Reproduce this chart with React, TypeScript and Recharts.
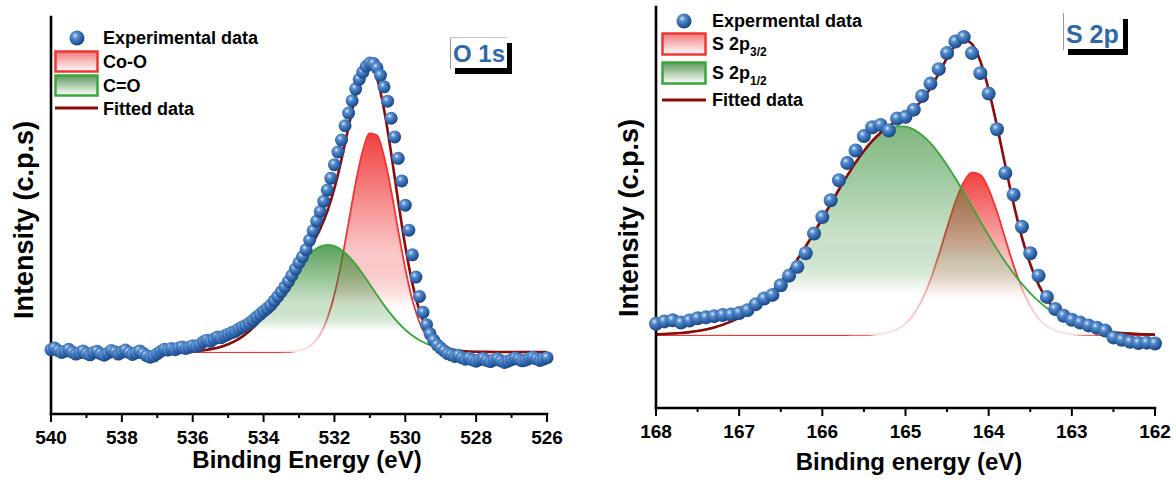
import React from 'react';
import { ComposedChart, Scatter, Area, Line, XAxis, YAxis, Legend } from 'recharts';

const FONT = '"Liberation Sans", Arial, Helvetica, sans-serif';

// ---------- O 1s region ----------
const O_BASE = 15.6;

const oScanEnergy = [
  540.0, 539.9, 539.8, 539.7, 539.6, 539.5, 539.4, 539.3, 539.2, 539.1,
  539.0, 538.9, 538.8, 538.7, 538.6, 538.5, 538.4, 538.3, 538.2, 538.1,
  538.0, 537.9, 537.8, 537.7, 537.6, 537.5, 537.4, 537.3, 537.2, 537.1,
  537.0, 536.9, 536.8, 536.7, 536.6, 536.5, 536.4, 536.3, 536.2, 536.1,
  536.0, 535.9, 535.8, 535.7, 535.6, 535.5, 535.4, 535.3, 535.2, 535.1,
  535.0, 534.9, 534.8, 534.7, 534.6, 534.5, 534.4, 534.3, 534.2, 534.1,
  534.0, 533.9, 533.8, 533.7, 533.6, 533.5, 533.4, 533.3, 533.2, 533.1,
  533.0, 532.9, 532.8, 532.7, 532.6, 532.5, 532.4, 532.3, 532.2, 532.1,
  532.0, 531.9, 531.8, 531.7, 531.6, 531.5, 531.4, 531.3, 531.2, 531.1,
  531.0, 530.9, 530.8, 530.7, 530.6, 530.5, 530.4, 530.3, 530.2, 530.1,
  530.0, 529.9, 529.8, 529.7, 529.6, 529.5, 529.4, 529.3, 529.2, 529.1,
  529.0, 528.9, 528.8, 528.7, 528.6, 528.5, 528.4, 528.3, 528.2, 528.1,
  528.0, 527.9, 527.8, 527.7, 527.6, 527.5, 527.4, 527.3, 527.2, 527.1,
  527.0, 526.9, 526.8, 526.7, 526.6, 526.5, 526.4, 526.3, 526.2, 526.1,
  526.0,
];

const oScanCounts = [
  16.2, 16.6, 16.0, 15.5, 15.8, 16.3, 15.6, 15.1, 15.4, 15.9,
  15.3, 14.9, 15.5, 15.8, 15.2, 14.8, 15.3, 16.0, 15.7, 15.1,
  15.6, 16.1, 15.5, 15.0, 15.4, 15.9, 15.3, 14.7, 14.3, 14.6,
  15.2, 15.8, 16.3, 16.1, 16.5, 16.2, 16.6, 16.9, 16.5, 16.8,
  17.2, 17.0, 17.5, 18.2, 18.6, 18.3, 18.9, 19.4, 19.2, 19.7,
  20.1, 20.5, 20.8, 21.4, 21.9, 22.3, 22.9, 23.6, 24.4, 25.1,
  25.9, 26.6, 27.4, 28.5, 29.6, 30.8, 32.0, 33.4, 34.9, 36.5,
  38.1, 39.6, 41.4, 43.8, 46.2, 48.6, 51.0, 53.6, 56.4, 59.4,
  62.8, 66.0, 69.0, 72.6, 75.8, 78.9, 81.9, 84.3, 86.1, 87.6,
  88.4, 88.3, 87.2, 85.3, 82.4, 78.8, 74.5, 69.8, 64.4, 58.7,
  52.6, 46.3, 40.1, 34.5, 29.6, 25.6, 22.5, 20.2, 18.6, 17.4,
  16.6, 15.9, 15.2, 14.9, 14.5, 14.8, 14.2, 13.8, 14.1, 13.6,
  13.3, 13.7, 14.0, 13.5, 13.2, 13.6, 13.9, 13.4, 13.0, 13.3,
  13.7, 14.1, 13.8, 13.4, 13.6, 14.0, 14.3, 13.9, 13.5, 13.8,
  14.2,
];

const oFitEnergy = [
  540.0, 537.0, 536.6, 536.2, 536.0, 535.8, 535.6, 535.4, 535.2, 535.0,
  534.8, 534.6, 534.4, 534.2, 534.0, 533.8, 533.6, 533.4, 533.2, 533.0,
  532.8, 532.6, 532.4, 532.2, 532.0, 531.8, 531.6, 531.4, 531.2, 531.0,
  530.8, 530.6, 530.4, 530.2, 530.0, 529.8, 529.6, 529.4, 529.2, 529.0,
  528.8, 528.6, 528.4, 528.2, 527.8, 527.4, 526.0,
];

const oCoOPeak = [
  15.6, 15.6, 15.6, 15.6, 15.6, 15.6, 15.6, 15.6, 15.6, 15.6,
  15.6, 15.6, 15.6, 15.6, 15.6, 15.6, 15.61, 15.65, 15.74, 15.99,
  16.56, 17.77, 20.1, 24.07, 30.15, 38.4, 48.2, 58.2, 66.3, 70.7,
  70.2, 64.9, 56.3, 46.2, 36.6, 28.75, 23.11, 19.51, 17.46, 16.41,
  15.92, 15.72, 15.64, 15.61, 15.6, 15.6, 15.6,
];

const oCOPeak = [
  15.6, 15.61, 15.64, 15.73, 15.82, 15.96, 16.17, 16.48, 16.93, 17.55,
  18.4, 19.5, 20.9, 22.61, 24.64, 26.94, 29.47, 32.11, 34.75, 37.22,
  39.38, 41.07, 42.17, 42.6, 42.31, 41.34, 39.76, 37.68, 35.26, 32.64,
  29.99, 27.43, 25.08, 22.99, 21.22, 19.75, 18.59, 17.7, 17.03, 16.56,
  16.22, 15.99, 15.84, 15.74, 15.65, 15.61, 15.6,
];

const oFitted = [
  15.6, 15.61, 15.64, 15.73, 15.82, 15.96, 16.17, 16.48, 16.93, 17.55,
  18.4, 19.5, 20.9, 22.61, 24.64, 26.94, 29.48, 32.16, 34.89, 37.61,
  40.34, 43.24, 46.67, 51.07, 56.86, 64.14, 72.36, 80.28, 85.96, 87.74,
  84.59, 76.73, 65.78, 53.59, 42.22, 32.9, 26.1, 21.61, 18.89, 17.37,
  16.54, 16.11, 15.88, 15.75, 15.65, 15.61, 15.6,
];

const oTicks = [540, 539, 538, 537, 536, 535, 534, 533, 532, 531, 530, 529, 528, 527, 526];
const oMajorTicks = [540, 538, 536, 534, 532, 530, 528, 526];

// ---------- S 2p region ----------
const S_BASE = 18.2;

const sEnergy = [
  168.0, 167.9, 167.8, 167.7, 167.6, 167.5, 167.4, 167.3, 167.2, 167.1,
  167.0, 166.9, 166.8, 166.7, 166.6, 166.5, 166.4, 166.3, 166.2, 166.1,
  166.0, 165.9, 165.8, 165.7, 165.6, 165.5, 165.4, 165.3, 165.2, 165.1,
  165.0, 164.9, 164.8, 164.7, 164.6, 164.5, 164.4, 164.3, 164.2, 164.1,
  164.0, 163.9, 163.8, 163.7, 163.6, 163.5, 163.4, 163.3, 163.2, 163.1,
  163.0, 162.9, 162.8, 162.7, 162.6, 162.5, 162.4, 162.3, 162.2, 162.1,
  162.0,
];

const sScanCounts = [
  21.0, 21.6, 21.9, 21.3, 21.8, 22.4, 22.6, 22.9, 23.2, 23.3,
  23.7, 24.4, 25.9, 27.3, 28.2, 30.6, 33.0, 35.2, 38.6, 43.5,
  47.6, 51.8, 56.8, 61.1, 64.2, 67.8, 70.0, 70.6, 69.2, 72.2,
  72.6, 74.4, 77.8, 80.9, 84.5, 88.5, 91.4, 92.5, 88.5, 83.5,
  78.4, 69.5, 58.6, 53.2, 45.2, 38.6, 33.0, 27.7, 24.7, 23.0,
  22.0, 21.3, 20.6, 20.0, 19.3, 17.6, 17.0, 16.5, 16.2, 16.3,
  16.1,
];

const s2p32 = [
  18.2, 18.2, 18.2, 18.2, 18.2, 18.2, 18.2, 18.2, 18.2, 18.2,
  18.2, 18.2, 18.2, 18.2, 18.2, 18.2, 18.2, 18.2, 18.2, 18.2,
  18.2, 18.2, 18.2, 18.2, 18.22, 18.24, 18.32, 18.5, 18.88, 19.65,
  21.05, 23.41, 27.0, 31.97, 38.14, 44.94, 51.39, 56.33, 58.76, 58.14,
  54.61, 48.92, 42.2, 35.56, 29.82, 25.4, 22.33, 20.39, 19.28, 18.69,
  18.41, 18.28, 18.23, 18.21, 18.2, 18.2, 18.2, 18.2, 18.2, 18.2,
  18.2,
];

const s2p12 = [
  18.37, 18.45, 18.57, 18.72, 18.93, 19.22, 19.6, 20.09, 20.73, 21.53,
  22.54, 23.76, 25.25, 27.01, 29.07, 31.44, 34.11, 37.07, 40.28, 43.7,
  47.26, 50.89, 54.49, 57.95, 61.17, 64.04, 66.47, 68.36, 69.63, 70.24,
  70.18, 69.42, 68.02, 66.03, 63.5, 60.55, 57.28, 53.77, 50.16, 46.54,
  43.0, 39.62, 36.45, 33.55, 30.94, 28.64, 26.64, 24.93, 23.5, 22.32,
  21.36, 20.59, 19.98, 19.51, 19.16, 18.89, 18.69, 18.54, 18.43, 18.36,
  18.31,
];

const sFitted = [
  18.37, 18.45, 18.57, 18.72, 18.93, 19.22, 19.6, 20.09, 20.73, 21.53,
  22.54, 23.76, 25.25, 27.01, 29.07, 31.44, 34.11, 37.07, 40.28, 43.7,
  47.26, 50.89, 54.49, 57.95, 61.19, 64.08, 66.59, 68.66, 70.31, 71.69,
  73.03, 74.63, 76.82, 79.8, 83.44, 87.29, 90.47, 91.9, 90.72, 86.48,
  79.41, 70.34, 60.45, 50.91, 42.56, 35.84, 30.77, 27.12, 24.58, 22.81,
  21.57, 20.67, 20.01, 19.52, 19.16, 18.89, 18.69, 18.54, 18.43, 18.36,
  18.31,
];

const sTicks = [168, 167.5, 167, 166.5, 166, 165.5, 165, 164.5, 164, 163.5, 163, 162.5, 162];
const sMajorTicks = [168, 167, 166, 165, 164, 163, 162];

// ---------- helpers ----------
type Pt = { e: number; v: number };
const pair = (xs: number[], ys: number[]): Pt[] => xs.map((e, i) => ({ e, v: ys[i] }));

const oScan = pair(oScanEnergy, oScanCounts);
const oCoO = pair(oFitEnergy, oCoOPeak);
const oCO = pair(oFitEnergy, oCOPeak);
const oFit = pair(oFitEnergy, oFitted);

const sScan = pair(sEnergy, sScanCounts);
const s32 = pair(sEnergy, s2p32);
const s12 = pair(sEnergy, s2p12);
const sFit = pair(sEnergy, sFitted);

const RED = '#f23434';
const GREEN = '#3aa63a';
const FIT = '#8b0a0a';
const BADGE_BLUE = '#2e68a8';
const axisStyle = { stroke: '#000', strokeWidth: 2.6, strokeLinecap: 'square' as const };

function EnergyTick(props: any) {
  const { x, y, payload, majors } = props;
  const isMajor = majors.includes(payload.value);
  return (
    <g>
      <line x1={x} x2={x} y1={y} y2={y + (isMajor ? 8 : 4)} stroke="#000" strokeWidth={2} />
      {isMajor && (
        <text x={x} y={y + 30} textAnchor="middle" fontFamily={FONT} fontWeight={700} fontSize={19} fill="#000">
          {payload.value}
        </text>
      )}
    </g>
  );
}

// axis titles are placed at fixed chart coordinates (px, py)
function TitleX({ px, py, text }: { px: number; py: number; text: string }) {
  return (
    <text x={px} y={py} textAnchor="middle" fontFamily={FONT} fontWeight={700} fontSize={24} fill="#000">
      {text}
    </text>
  );
}

function TitleY({ px, py, text }: { px: number; py: number; text: string }) {
  return (
    <text
      x={px}
      y={py}
      transform={`rotate(-90 ${px} ${py})`}
      textAnchor="middle"
      fontFamily={FONT}
      fontWeight={700}
      fontSize={27}
      fill="#000"
    >
      {text}
    </text>
  );
}

const ballShape = (id: string, r: number) => (props: any) => {
  const { cx, cy } = props;
  if (cx == null || cy == null) return <g />;
  return <circle cx={cx} cy={cy} r={r} fill={`url(#${id})`} />;
};

function BallGradient({ id }: { id: string }) {
  return (
    <radialGradient id={id} cx="0.38" cy="0.34" r="0.66">
      <stop offset="0" stopColor="#dce9f8" />
      <stop offset="0.28" stopColor="#5a90cf" />
      <stop offset="0.7" stopColor="#2d63a8" />
      <stop offset="1" stopColor="#1b4683" />
    </radialGradient>
  );
}

function FillGradient({ id, color, top }: { id: string; color: string; top: number }) {
  return (
    <linearGradient id={id} x1="0" y1="0" x2="0" y2="1">
      <stop offset="0" stopColor={color} stopOpacity={top} />
      <stop offset="0.55" stopColor={color} stopOpacity={0.25} />
      <stop offset="0.8" stopColor="#ffffff" stopOpacity={0.6} />
      <stop offset="1" stopColor="#ffffff" stopOpacity={0.85} />
    </linearGradient>
  );
}

const legendText = { fontFamily: FONT, fontWeight: 700, fontSize: 18, fill: '#000' };

function OLegend() {
  return (
    <svg width={280} height={125} style={{ overflow: 'visible', display: 'block' }}>
      <defs>
        <BallGradient id="lgBallO" />
        <linearGradient id="lgRedO" x1="0" y1="0" x2="0" y2="1">
          <stop offset="0" stopColor="#f07a7a" />
          <stop offset="1" stopColor="#ffffff" />
        </linearGradient>
        <linearGradient id="lgGreenO" x1="0" y1="0" x2="0" y2="1">
          <stop offset="0" stopColor="#5f9a5f" />
          <stop offset="1" stopColor="#ffffff" />
        </linearGradient>
      </defs>
      <circle cx={77} cy={38} r={7.5} fill="url(#lgBallO)" />
      <text x={103} y={44} {...legendText}>Experimental data</text>
      <rect x={55.5} y={51.5} width={42} height={20} fill="url(#lgRedO)" stroke={RED} strokeWidth={2.5} />
      <text x={103} y={68} {...legendText}>Co-O</text>
      <rect x={55.5} y={75.5} width={42} height={20} fill="url(#lgGreenO)" stroke={GREEN} strokeWidth={2.5} />
      <text x={103} y={92} {...legendText}>C=O</text>
      <line x1={55} x2={98} y1={108} y2={108} stroke={FIT} strokeWidth={3} />
      <text x={103} y={115} {...legendText}>Fitted data</text>
    </svg>
  );
}

function SLegend() {
  return (
    <svg width={260} height={115} style={{ overflow: 'visible', display: 'block' }}>
      <defs>
        <BallGradient id="lgBallS" />
        <linearGradient id="lgRedS" x1="0" y1="0" x2="0" y2="1">
          <stop offset="0" stopColor="#f07a7a" />
          <stop offset="1" stopColor="#ffffff" />
        </linearGradient>
        <linearGradient id="lgGreenS" x1="0" y1="0" x2="0" y2="1">
          <stop offset="0" stopColor="#5f9a5f" />
          <stop offset="1" stopColor="#ffffff" />
        </linearGradient>
      </defs>
      <circle cx={84} cy={21} r={7.5} fill="url(#lgBallS)" />
      <text x={112} y={27} {...legendText}>Expermental data</text>
      <rect x={62.5} y={33.5} width={43} height={21} fill="url(#lgRedS)" stroke={RED} strokeWidth={2.5} />
      <text x={112} y={50} {...legendText}>
        S 2p<tspan dy={6} fontSize={12}>3/2</tspan>
      </text>
      <rect x={62.5} y={62.5} width={43} height={21} fill="url(#lgGreenS)" stroke={GREEN} strokeWidth={2.5} />
      <text x={112} y={79} {...legendText}>
        S 2p<tspan dy={6} fontSize={12}>1/2</tspan>
      </text>
      <line x1={62} x2={106} y1={100} y2={100} stroke={FIT} strokeWidth={3} />
      <text x={112} y={106} {...legendText}>Fitted data</text>
    </svg>
  );
}

function Badge({ x, y, w, h, text, size, topLine }: { x: number; y: number; w: number; h: number; text: string; size: number; topLine: boolean }) {
  return (
    <g>
      <rect x={x + 5} y={y + 6} width={w} height={h} fill="#000" />
      <rect x={x} y={y} width={w} height={h} fill="#fff" />
      <line x1={x + 0.5} x2={x + 0.5} y1={y} y2={y + h + 1} stroke="#9a9a9a" strokeWidth={1} />
      {topLine && <line x1={x} x2={x + w} y1={y + 0.5} y2={y + 0.5} stroke="#c8c8c8" strokeWidth={1} />}
      <text x={x + 3} y={y + h - 6} fontFamily={FONT} fontWeight={700} fontSize={size} fill={BADGE_BLUE}>
        {text}
      </text>
    </g>
  );
}

export default function App() {
  return (
    <div style={{ position: 'absolute', left: 0, top: 0, width: 1176, height: 480, background: '#fff', overflow: 'hidden' }}>
      {/* O 1s panel */}
      <div style={{ position: 'absolute', left: 0, top: 0 }}>
        <ComposedChart width={580} height={480} margin={{ top: 17, right: 33, bottom: 0, left: 0 }}>
          <defs>
            <BallGradient id="ballO" />
            <FillGradient id="fillCoO" color="#ee2626" top={0.88} />
            <FillGradient id="fillCO" color="#2f8a2f" top={0.8} />
          </defs>
          <XAxis
            dataKey="e"
            type="number"
            domain={[526, 540]}
            reversed
            ticks={oTicks}
            interval={0}
            tickSize={0}
            tickMargin={0}
            tickLine={false}
            axisLine={axisStyle}
            height={66}
            tick={<EnergyTick majors={oMajorTicks} />}
            label={<TitleX px={307} py={468} text="Binding Energy (eV)" />}
          />
          <XAxis xAxisId="top" orientation="top" type="number" domain={[526, 540]} reversed tick={false} tickLine={false} axisLine={axisStyle} height={0} />
          <YAxis
            dataKey="v"
            type="number"
            domain={[0, 100]}
            tick={false}
            tickLine={false}
            axisLine={axisStyle}
            width={51}
            label={<TitleY px={33} py={220} text="Intensity (c.p.s)" />}
          />
          <YAxis yAxisId="right" orientation="right" type="number" domain={[0, 100]} tick={false} tickLine={false} axisLine={axisStyle} width={0} />
          <Scatter data={oScan} shape={ballShape('ballO', 6.5)} isAnimationActive={false} />
          <Area data={oCoO} dataKey="v" type="monotone" baseValue={O_BASE} stroke={RED} strokeWidth={1.8} fill="url(#fillCoO)" fillOpacity={1} dot={false} activeDot={false} isAnimationActive={false} />
          <Area data={oCO} dataKey="v" type="monotone" baseValue={O_BASE} stroke={GREEN} strokeWidth={1.8} fill="url(#fillCO)" fillOpacity={1} dot={false} activeDot={false} isAnimationActive={false} />
          <Line data={oFit} dataKey="v" type="monotone" stroke={FIT} strokeWidth={2.6} dot={false} activeDot={false} isAnimationActive={false} />
          <Legend
            layout="vertical"
            align="center"
            verticalAlign="middle"
            wrapperStyle={{ left: 0, top: 0, width: 280, height: 125 }}
            content={() => <OLegend />}
          />
        </ComposedChart>
      </div>

      {/* S 2p panel */}
      <div style={{ position: 'absolute', left: 600, top: 0 }}>
        <ComposedChart width={576} height={480} margin={{ top: 7, right: 21, bottom: 0, left: 0 }}>
          <defs>
            <BallGradient id="ballS" />
            <FillGradient id="fill32" color="#ee2626" top={0.88} />
            <FillGradient id="fill12" color="#2f8a2f" top={0.62} />
          </defs>
          <XAxis
            dataKey="e"
            type="number"
            domain={[162, 168]}
            reversed
            ticks={sTicks}
            interval={0}
            tickSize={0}
            tickMargin={0}
            tickLine={false}
            axisLine={axisStyle}
            height={72}
            tick={<EnergyTick majors={sMajorTicks} />}
            label={<TitleX px={309} py={470} text="Binding energy (eV)" />}
          />
          <XAxis xAxisId="top" orientation="top" type="number" domain={[162, 168]} reversed tick={false} tickLine={false} axisLine={axisStyle} height={0} />
          <YAxis
            dataKey="v"
            type="number"
            domain={[0, 100]}
            tick={false}
            tickLine={false}
            axisLine={axisStyle}
            width={56}
            label={<TitleY px={38} py={218} text="Intensity (c.p.s)" />}
          />
          <YAxis yAxisId="right" orientation="right" type="number" domain={[0, 100]} tick={false} tickLine={false} axisLine={axisStyle} width={0} />
          <Scatter data={sScan} shape={ballShape('ballS', 7)} isAnimationActive={false} />
          <Area data={s32} dataKey="v" type="monotone" baseValue={S_BASE} stroke={RED} strokeWidth={1.8} fill="url(#fill32)" fillOpacity={1} dot={false} activeDot={false} isAnimationActive={false} />
          <Area data={s12} dataKey="v" type="monotone" baseValue={S_BASE} stroke={GREEN} strokeWidth={1.8} fill="url(#fill12)" fillOpacity={1} dot={false} activeDot={false} isAnimationActive={false} />
          <Line data={sFit} dataKey="v" type="monotone" stroke={FIT} strokeWidth={2.6} dot={false} activeDot={false} isAnimationActive={false} />
          <Legend
            layout="vertical"
            align="center"
            verticalAlign="middle"
            wrapperStyle={{ left: 0, top: 0, width: 260, height: 115 }}
            content={() => <SLegend />}
          />
        </ComposedChart>
      </div>

      {/* region badges */}
      <svg width={1176} height={480} style={{ position: 'absolute', left: 0, top: 0, pointerEvents: 'none' }}>
        <Badge x={450} y={37} w={57} h={31} text="O 1s" size={24} topLine />
        <Badge x={1063} y={13} w={60} h={36} text="S 2p" size={25} topLine={false} />
      </svg>
    </div>
  );
}
